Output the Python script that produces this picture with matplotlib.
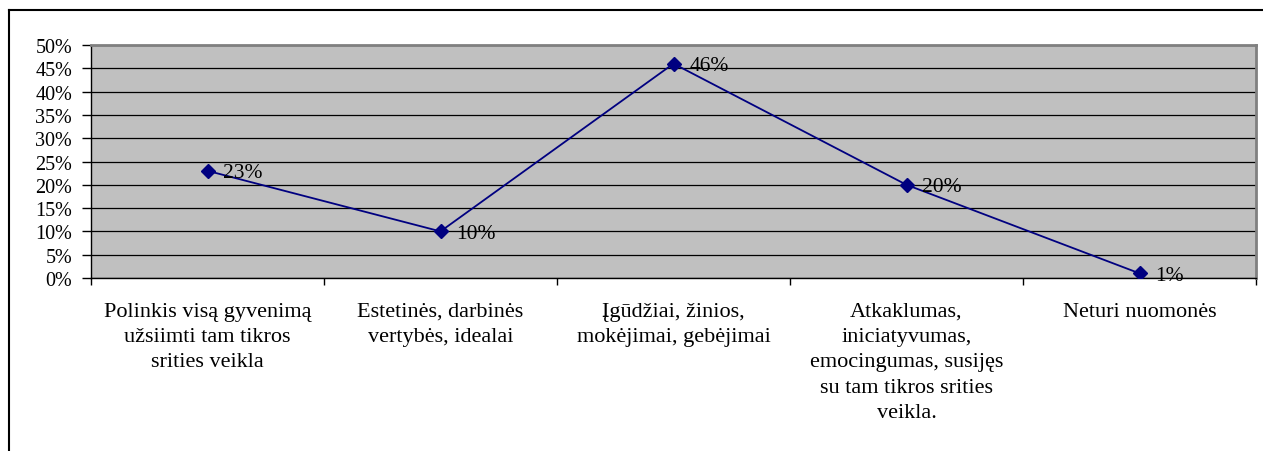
import numpy as np
import matplotlib.pyplot as plt
from matplotlib.lines import Line2D
from matplotlib.ticker import PercentFormatter, FixedLocator

plt.rcParams['font.family'] = ['Liberation Serif', 'DejaVu Serif']

# Duomenys
kategorijos = [
    'Polinkis visą gyvenimą\nužsiimti tam tikros\nsrities veikla',
    'Estetinės, darbinės\nvertybės, idealai',
    'Įgūdžiai, žinios,\nmokėjimai, gebėjimai',
    'Atkaklumas,\niniciatyvumas,\nemocingumas, susijęs\nsu tam tikros srities\nveikla.',
    'Neturi nuomonės',
]
reiksmes = [23, 10, 46, 20, 1]

fig = plt.figure(figsize=(12.63, 4.52), dpi=100)
ax = fig.add_axes([91 / 1263, 1 - 279 / 452, (1256 - 91) / 1263, (279 - 46) / 452])

x = np.arange(len(kategorijos))
ax.set_facecolor('#C0C0C0')
ax.plot(x, reiksmes, color='#000080', linewidth=1.3, marker='D', markersize=7,
        markerfacecolor='#000080', markeredgecolor='#000080', zorder=4)

for xi, v in zip(x, reiksmes):
    ax.annotate(f'{v}%', (xi, v), xytext=(11.5, -1.5), textcoords='offset points',
                ha='left', va='center', fontsize=15.5, color='black', zorder=5)

ax.set_xlim(-0.5, len(kategorijos) - 0.5)
ax.set_ylim(0, 50)
ax.yaxis.set_major_locator(FixedLocator(np.arange(0, 51, 5)))
ax.yaxis.set_major_formatter(PercentFormatter(decimals=0))
ax.grid(axis='y', color='black', linewidth=0.9, zorder=1)
ax.set_axisbelow(True)

ax.set_xticks(x)
ax.set_xticklabels(kategorijos, fontsize=16, linespacing=1.46, va='top')
ax.xaxis.set_minor_locator(FixedLocator(np.arange(-0.5, len(kategorijos), 1)))
ax.tick_params(axis='x', which='major', length=0, pad=17)
ax.tick_params(axis='x', which='minor', length=5, width=1, color='black', direction='out')
ax.tick_params(axis='y', labelsize=14.5, length=6.5, width=1, color='black', pad=7)

for s in ['left', 'bottom']:
    ax.spines[s].set_color('black')
    ax.spines[s].set_linewidth(1)
for s in ['top', 'right']:
    ax.spines[s].set_color('#808080')
    ax.spines[s].set_linewidth(2)

# Rėmelis aplink diagramą
fig.add_artist(Line2D([8.5 / 1263, 8.5 / 1263], [0, 1 - 11 / 452], color='black', linewidth=1.5,
                      transform=fig.transFigure))
fig.add_artist(Line2D([8.5 / 1263, 1], [1 - 11 / 452, 1 - 11 / 452], color='black', linewidth=1.5,
                      transform=fig.transFigure))

fig.savefig('out.png', dpi=100, facecolor='white')
